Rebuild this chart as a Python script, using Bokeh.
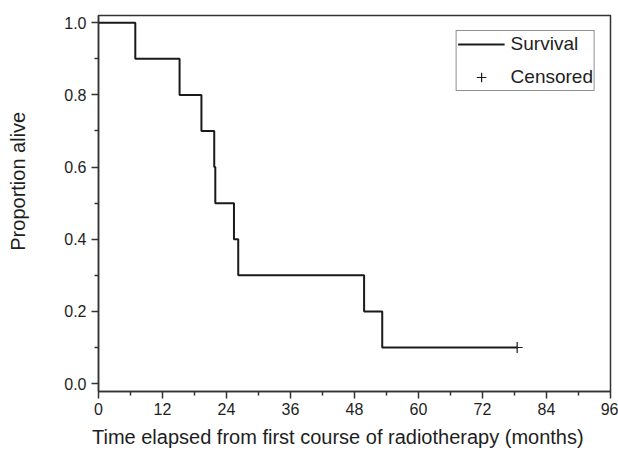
from bokeh.plotting import figure
from bokeh.models import Range1d, FixedTicker, Legend, LegendItem, PrintfTickFormatter
from bokeh.embed import file_html
from bokeh.resources import INLINE

# Data (Kaplan-Meier estimate)
times = [0, 6.9, 15.2, 19.3, 21.7, 21.9, 25.4, 26.2, 49.8, 53.2, 78.5]
survival = [1.0, 0.9, 0.8, 0.7, 0.6, 0.5, 0.4, 0.3, 0.2, 0.1, 0.1]
censor_times = [78.5]
censor_survival = [0.1]
x_ticks = [0, 12, 24, 36, 48, 60, 72, 84, 96]
y_ticks = [0.0, 0.2, 0.4, 0.6, 0.8, 1.0]
x_title = "Time elapsed from first course of radiotherapy (months)"
y_title = "Proportion alive"
legend_labels = ["Survival", "Censored"]

FONT = "Liberation Sans"
TXT = "#1e1e1e"
AX = "#333333"
NBSP = "\u00a0"

W, H = 618, 455
p = figure(width=W, height=H, output_backend="svg", toolbar_location=None,
           x_range=Range1d(0, 96), y_range=Range1d(-0.022, 1.02),
           min_border_left=98, min_border_right=8, min_border_top=15, min_border_bottom=64)
p.xgrid.visible = False
p.ygrid.visible = False
p.outline_line_color = AX
p.outline_line_width = 1.5
p.background_fill_color = "white"
p.border_fill_color = "white"

for ax in (p.xaxis[0], p.yaxis[0]):
    ax.axis_line_color = AX
    ax.axis_line_width = 1.5
    ax.major_tick_line_color = AX
    ax.major_tick_line_width = 1.5
    ax.minor_tick_line_color = AX
    ax.minor_tick_line_width = 1.5
    ax.major_tick_in = 0
    ax.major_tick_out = 7
    ax.minor_tick_in = 0
    ax.minor_tick_out = 4
    ax.major_label_text_font = FONT
    ax.major_label_text_font_size = "16px"
    ax.major_label_text_color = TXT
    ax.axis_label_text_font = FONT
    ax.axis_label_text_font_size = "20px"
    ax.axis_label_text_font_style = "normal"
    ax.axis_label_text_color = TXT

p.xaxis[0].ticker = FixedTicker(ticks=x_ticks, minor_ticks=[x + 6 for x in x_ticks[:-1]])
p.yaxis[0].ticker = FixedTicker(ticks=y_ticks, minor_ticks=[round(y + 0.1, 1) for y in y_ticks[:-1]])
p.yaxis[0].formatter = PrintfTickFormatter(format="%.1f")
p.xaxis[0].major_label_standoff = 4
p.yaxis[0].major_label_standoff = 5

# axis titles; the original places them slightly off-centre (padding shifts them)
p.xaxis[0].axis_label = x_title + NBSP * 6
p.yaxis[0].axis_label = NBSP * 8 + y_title
p.xaxis[0].axis_label_standoff = 8
p.yaxis[0].axis_label_standoff = 32

r_line = p.step(times, survival, mode="after", line_color="#1a1a1a", line_width=2)
r_cens = p.scatter(censor_times, censor_survival, marker="cross", size=11,
                   line_color="#1a1a1a", line_width=1.2)

legend = Legend(items=[LegendItem(label=legend_labels[0], renderers=[r_line]),
                       LegendItem(label=legend_labels[1], renderers=[r_cens])],
                location="top_right")
legend.margin = 15
legend.padding = 1
legend.spacing = 9
legend.glyph_width = 47
legend.glyph_height = 24
legend.label_height = 24
legend.label_standoff = 6
legend.label_text_font = FONT
legend.label_text_font_size = "19px"
legend.label_text_color = TXT
legend.border_line_color = "#222222"
legend.border_line_width = 1
legend.background_fill_alpha = 1
p.add_layout(legend)

open("out.html", "w").write(file_html(p, INLINE))
